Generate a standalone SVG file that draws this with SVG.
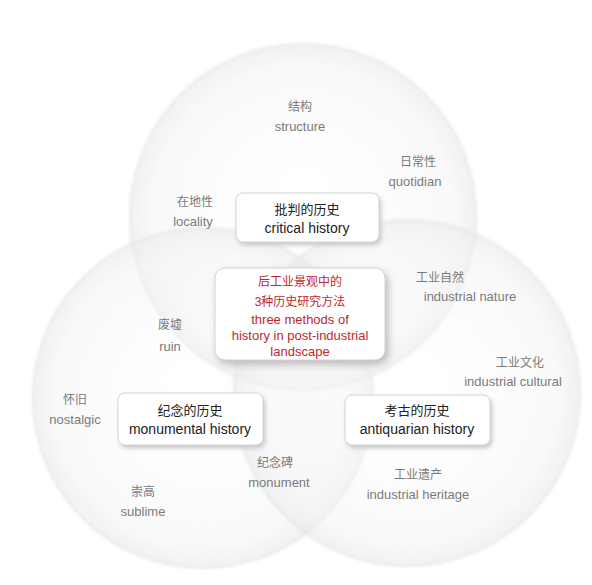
<svg xmlns="http://www.w3.org/2000/svg" width="592" height="585" viewBox="0 0 592 585">
<defs>
<radialGradient id="g" cx="0.5" cy="0.5" r="0.5">
<stop offset="0" stop-color="#ffffff" stop-opacity="0.1"/>
<stop offset="0.85" stop-color="#f2f2f2" stop-opacity="0.45"/>
<stop offset="1" stop-color="#e8e8e8" stop-opacity="0.6"/>
</radialGradient>
<filter id="soft" x="-10%" y="-10%" width="120%" height="120%"><feGaussianBlur stdDeviation="1.5"/></filter>
<filter id="blur" x="-20%" y="-20%" width="140%" height="140%"><feGaussianBlur stdDeviation="4"/></filter>
<filter id="sh" x="-20%" y="-30%" width="140%" height="160%"><feGaussianBlur stdDeviation="2.5"/></filter>
</defs>
<style>
.lab{font-family:"Liberation Sans","Noto Sans CJK SC",sans-serif;fill:#7a7a7a;text-anchor:middle}
.zh{font-size:12px}
.en{font-size:13px}
.box{fill:#ffffff;stroke:#d4d4d4;stroke-width:1}
.bt{font-family:"Liberation Sans","Noto Sans CJK SC",sans-serif;fill:#222;text-anchor:middle}
.rt{font-family:"Liberation Sans","Noto Sans CJK SC",sans-serif;fill:#c0282d;text-anchor:middle}
.circ{fill:url(#g);stroke:#e8e8e8;stroke-width:2}
</style>
<rect width="592" height="585" fill="#ffffff"/>
<g id="circles" filter="url(#soft)">
<circle class="circ" cx="303" cy="217" r="173"/>
<circle class="circ" cx="203" cy="398" r="170"/>
<circle class="circ" cx="407" cy="393" r="173"/>
</g>
<g id="connectors"></g>
<g id="critical">
<rect x="238" y="196" width="143" height="49" rx="7" fill="#c4c4c4" filter="url(#sh)"/>
<rect class="box" x="236" y="193" width="143" height="49" rx="7"/>
<text class="bt" x="307" y="214" font-size="13">批判的历史</text>
<text class="bt" x="307" y="233" font-size="14">critical history</text>
</g>
<g id="center">
<rect x="218" y="272" width="170" height="92" rx="10" fill="#b4b4b4" filter="url(#blur)"/>
<rect class="box" x="215" y="268" width="170" height="92" rx="10"/>
<text class="rt" x="300" y="286" font-size="12">后工业景观中的</text>
<text class="rt" x="300" y="306" font-size="12">3种历史研究方法</text>
<text class="rt" x="300" y="324" font-size="13">three methods of</text>
<text class="rt" x="300" y="340" font-size="13">history in post-industrial</text>
<text class="rt" x="300" y="356" font-size="13">landscape</text>
</g>
<g id="monumental">
<rect x="120" y="396" width="145" height="52" rx="7" fill="#c4c4c4" filter="url(#sh)"/>
<rect class="box" x="118" y="393" width="145" height="52" rx="7"/>
<text class="bt" x="190" y="415" font-size="13">纪念的历史</text>
<text class="bt" x="190" y="434" font-size="14">monumental history</text>
</g>
<g id="antiquarian">
<rect x="347" y="398" width="145" height="50" rx="7" fill="#c4c4c4" filter="url(#sh)"/>
<rect class="box" x="345" y="395" width="145" height="50" rx="7"/>
<text class="bt" x="417" y="415" font-size="13">考古的历史</text>
<text class="bt" x="417" y="434" font-size="14">antiquarian history</text>
</g>
<g id="structure"><text class="lab zh" x="300" y="111">结构</text><text class="lab en" x="300" y="131">structure</text></g>
<g id="quotidian"><text class="lab zh" x="418" y="166">日常性</text><text class="lab en" x="415" y="186">quotidian</text></g>
<g id="locality"><text class="lab zh" x="195" y="206">在地性</text><text class="lab en" x="193" y="226">locality</text></g>
<g id="ruin"><text class="lab zh" x="170" y="329">废墟</text><text class="lab en" x="170" y="351">ruin</text></g>
<g id="nostalgic"><text class="lab zh" x="75" y="404">怀旧</text><text class="lab en" x="75" y="424">nostalgic</text></g>
<g id="monument"><text class="lab zh" x="275" y="467">纪念碑</text><text class="lab en" x="279" y="487">monument</text></g>
<g id="sublime"><text class="lab zh" x="143" y="496">崇高</text><text class="lab en" x="143" y="516">sublime</text></g>
<g id="nature"><text class="lab zh" x="440" y="282">工业自然</text><text class="lab en" x="470" y="301">industrial nature</text></g>
<g id="cultural"><text class="lab zh" x="520" y="367">工业文化</text><text class="lab en" x="513" y="386">industrial cultural</text></g>
<g id="heritage"><text class="lab zh" x="418" y="479">工业遗产</text><text class="lab en" x="418" y="499">industrial heritage</text></g>
</svg>
